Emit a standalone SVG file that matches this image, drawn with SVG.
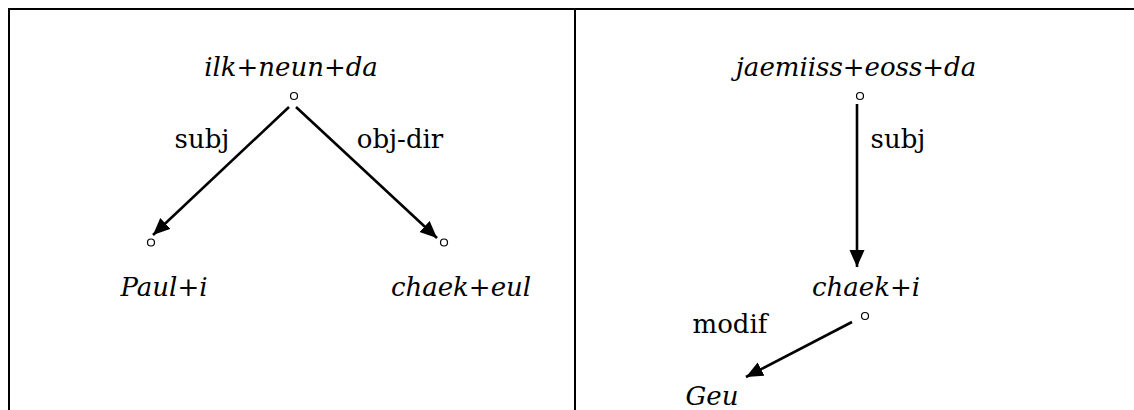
<svg xmlns="http://www.w3.org/2000/svg" width="1134" height="410" viewBox="0 0 1134 410">
<style>
text{font-family:'DejaVu Serif',serif;font-size:26px;fill:#000}
.it{font-style:italic}
.dot{fill:#fff;stroke:#000;stroke-width:1.2}
.edge{stroke:#000;stroke-width:2.6;fill:none;marker-end:url(#ah)}
.frame{stroke:#000;stroke-width:2;fill:none}
</style>
<defs>
<marker id="ah" markerUnits="userSpaceOnUse" markerWidth="19" markerHeight="17" refX="17" refY="7.5" orient="auto">
<path d="M0,0 L17,7.5 L0,15 z" fill="#000"/>
</marker>
</defs>
<rect width="1134" height="410" fill="#fff"/>
<g id="frame">
<path class="frame" d="M9,410 V9 H1134 M575,9 V410"/>
</g>
<g id="connectors">
<line class="edge" x1="289" y1="107" x2="153" y2="235"/>
<line class="edge" x1="296" y1="107" x2="437" y2="238"/>
<line class="edge" x1="857" y1="104" x2="857" y2="267"/>
<line class="edge" x1="852" y1="322" x2="746" y2="377"/>
<text x="202" y="148" text-anchor="middle">subj</text>
<text x="400" y="148" text-anchor="middle">obj-dir</text>
<text x="898" y="148" text-anchor="middle">subj</text>
<text x="730" y="333" text-anchor="middle">modif</text>
</g>
<g id="n-ilk">
<text class="it" x="291" y="76" text-anchor="middle">ilk+neun+da</text>
<circle class="dot" cx="294" cy="96" r="3.5"/>
</g>
<g id="n-paul">
<circle class="dot" cx="151" cy="242.5" r="3.5"/>
<text class="it" x="164" y="296" text-anchor="middle">Paul+i</text>
</g>
<g id="n-chaek-eul">
<circle class="dot" cx="444" cy="242.5" r="3.5"/>
<text class="it" x="461" y="296" text-anchor="middle">chaek+eul</text>
</g>
<g id="n-jaemiiss">
<text class="it" x="856" y="76" text-anchor="middle">jaemiiss+eoss+da</text>
<circle class="dot" cx="860" cy="96" r="3.5"/>
</g>
<g id="n-chaek-i">
<text class="it" x="866" y="296" text-anchor="middle">chaek+i</text>
<circle class="dot" cx="865" cy="316" r="3.5"/>
</g>
<g id="n-geu">
<text class="it" x="712" y="405" text-anchor="middle">Geu</text>
</g>
</svg>
